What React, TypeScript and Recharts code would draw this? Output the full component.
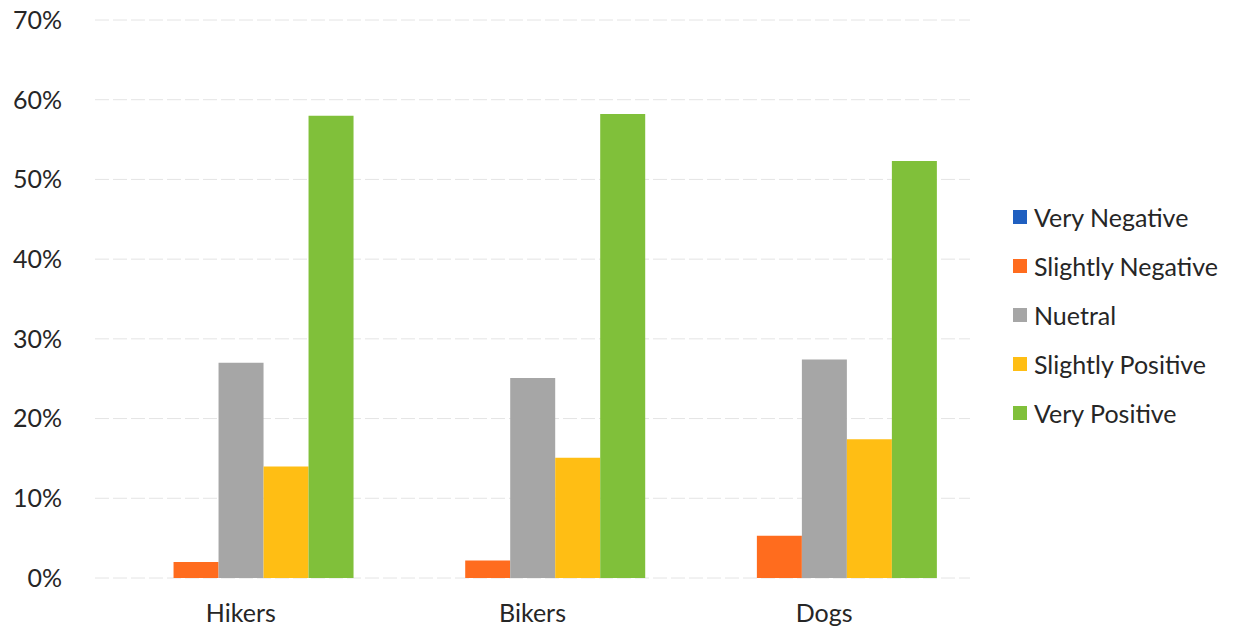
import { BarChart, Bar, XAxis, YAxis, CartesianGrid } from 'recharts';

const groups = ['Hikers', 'Bikers', 'Dogs'];
const veryNegative = [0, 0, 0];
const slightlyNegative = [2, 2.2, 5.3];
const neutral = [27, 25.1, 27.4];
const slightlyPositive = [14, 15.1, 17.4];
const veryPositive = [58, 58.2, 52.3];
const yTicks = [0, 10, 20, 30, 40, 50, 60, 70];

const SERIES = [
  { key: 'veryNegative', name: 'Very Negative', color: '#1f5fc0' },
  { key: 'slightlyNegative', name: 'Slightly Negative', color: '#ff6c1e' },
  { key: 'neutral', name: 'Nuetral', color: '#a6a6a6' },
  { key: 'slightlyPositive', name: 'Slightly Positive', color: '#ffbe14' },
  { key: 'veryPositive', name: 'Very Positive', color: '#80c03a' },
];

const data = groups.map((g, i) => ({
  group: g,
  veryNegative: veryNegative[i],
  slightlyNegative: slightlyNegative[i],
  neutral: neutral[i],
  slightlyPositive: slightlyPositive[i],
  veryPositive: veryPositive[i],
}));

const FONT = 'Lato, "Open Sans", sans-serif';

// legend sits outside the chart so it doesn't shrink the plot area
function LegendList() {
  return (
    <div style={{ position: 'absolute', left: 1013, top: 192, fontFamily: FONT, fontSize: 25, color: '#262626' }}>
      {SERIES.map((s) => (
        <div key={s.key} style={{ display: 'flex', alignItems: 'center', height: 49 }}>
          <span style={{ width: 14, height: 14, background: s.color, marginRight: 7, display: 'inline-block' }} />
          <span>{s.name}</span>
        </div>
      ))}
    </div>
  );
}

export default function App() {
  return (
    <div style={{ position: 'absolute', left: 0, top: 0, width: 1235, height: 630, background: '#fff' }}>
      <BarChart
        width={1235}
        height={630}
        data={data}
        margin={{ top: 20, right: 265, bottom: 0, left: 0 }}
        barCategoryGap="11.5%"
        barGap={0}
      >
        <CartesianGrid vertical={false} stroke="#e4e4e4" strokeDasharray="14 4" />
        <XAxis
          dataKey="group"
          axisLine={false}
          tickLine={false}
          height={52}
          tickMargin={20}
          tick={{ fill: '#262626', fontSize: 25, fontFamily: FONT }}
        />
        <YAxis
          domain={[0, 70]}
          ticks={yTicks}
          width={95}
          axisLine={false}
          tickLine={false}
          tickSize={0}
          tickMargin={33}
          tickFormatter={(v: number) => `${v}%`}
          tick={{ fill: '#262626', fontSize: 25, fontFamily: FONT }}
        />
        {SERIES.map((s) => (
          <Bar key={s.key} dataKey={s.key} name={s.name} fill={s.color} isAnimationActive={false} />
        ))}
      </BarChart>
      <LegendList />
    </div>
  );
}
